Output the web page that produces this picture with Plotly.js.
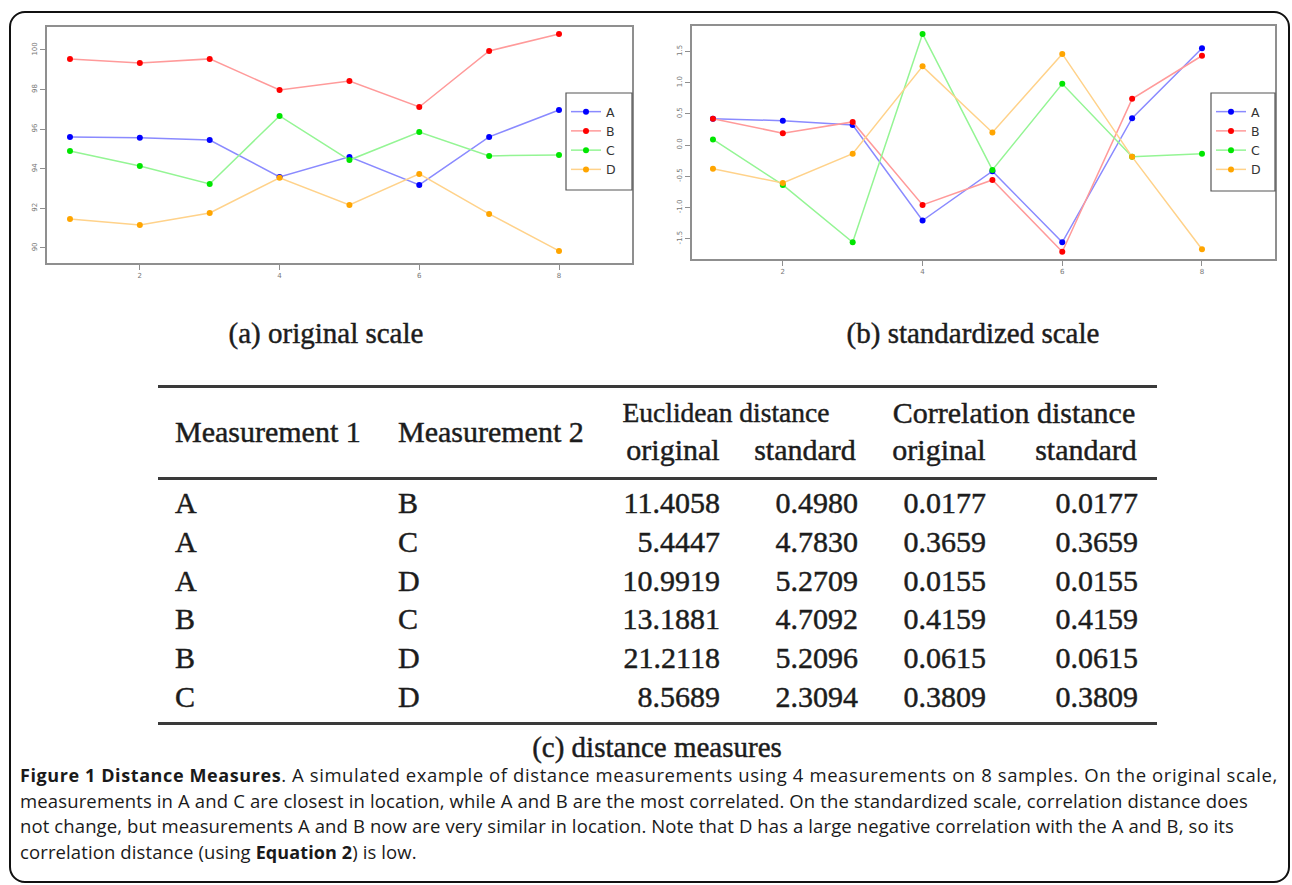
<!DOCTYPE html>
<html>
<head>
<meta charset="utf-8">
<script src="https://cdn.plot.ly/plotly-3.0.1.min.js"></script>
<style>
html,body{margin:0;padding:0;background:#fff;width:1292px;height:885px;overflow:hidden;position:relative;}
#frame{position:absolute;left:9px;top:11px;width:1281px;height:872px;border:2px solid #111;border-radius:16px;box-sizing:border-box;}
#chart{position:absolute;left:0;top:0;width:1292px;height:300px;}
.serif{font-family:"Liberation Serif","Times New Roman",serif;color:#1c1c1c;position:absolute;white-space:nowrap;line-height:34px;height:34px;-webkit-text-stroke:0.45px #1c1c1c;}
.rule{position:absolute;left:158px;width:999px;background:#3a3a3a;}
.cap{position:absolute;left:20px;font-family:"Open Sans",sans-serif;font-size:18.5px;line-height:26px;color:#1a1a1a;white-space:nowrap;}
.cap b{font-size:18px;}
</style>
</head>
<body>
<div id="frame"></div>
<div id="chart"></div>
<div id="texts"></div>
<script>
// ---------------- data ----------------
const samples = [1, 2, 3, 4, 5, 6, 7, 8];
const seriesNames = ['A', 'B', 'C', 'D'];

// (a) original scale
const originalA = [95.61, 95.56, 95.45, 93.59, 94.60, 93.18, 95.61, 96.97];
const originalB = [99.55, 99.34, 99.55, 97.98, 98.43, 97.12, 99.95, 100.81];
const originalC = [94.90, 94.14, 93.23, 96.67, 94.44, 95.86, 94.65, 94.70];
const originalD = [91.46, 91.16, 91.77, 93.54, 92.17, 93.74, 91.72, 89.85];

// (b) standardized scale
const standardA = [0.42, 0.39, 0.32, -1.21, -0.42, -1.56, 0.43, 1.55];
const standardB = [0.42, 0.19, 0.37, -0.96, -0.56, -1.71, 0.74, 1.43];
const standardC = [0.09, -0.64, -1.56, 1.78, -0.40, 0.98, -0.19, -0.14];
const standardD = [-0.38, -0.61, -0.14, 1.26, 0.20, 1.46, -0.19, -1.67];

const xTicks = [2, 4, 6, 8];
const yTicksOriginal = [90, 92, 94, 96, 98, 100];
const yTicksStandard = [-1.5, -1.0, -0.5, 0.0, 0.5, 1.0, 1.5];
const yTickTextStandard = ['-1.5', '-1.0', '-0.5', '0.0', '0.5', '1.0', '1.5'];

// (c) distance table
const measurement1 = ['A', 'A', 'A', 'B', 'B', 'C'];
const measurement2 = ['B', 'C', 'D', 'C', 'D', 'D'];
const euclidOriginal = ['11.4058', '5.4447', '10.9919', '13.1881', '21.2118', '8.5689'];
const euclidStandard = ['0.4980', '4.7830', '5.2709', '4.7092', '5.2096', '2.3094'];
const corrOriginal = ['0.0177', '0.3659', '0.0155', '0.4159', '0.0615', '0.3809'];
const corrStandard = ['0.0177', '0.3659', '0.0155', '0.4159', '0.0615', '0.3809'];

const subTitles = ['(a) original scale', '(b) standardized scale', '(c) distance measures'];
const headerTop = ['Euclidean distance', 'Correlation distance'];
const headerCols = ['Measurement 1', 'Measurement 2', 'original', 'standard', 'original', 'standard'];

// ---------------- styles ----------------
const markerColors = {A: '#0000ff', B: '#ff0000', C: '#00e600', D: '#ffa500'};
const lineColors = {A: '#8a8aff', B: '#ff9a9a', C: '#94f594', D: '#ffd28a'};
const W = 1292, H = 300;

const origSets = [originalA, originalB, originalC, originalD];
const stdSets = [standardA, standardB, standardC, standardD];

const traces = [];
seriesNames.forEach((n, i) => {
  traces.push({x: samples, y: origSets[i], name: n, type: 'scatter', mode: 'lines+markers',
    xaxis: 'x', yaxis: 'y', legend: 'legend',
    line: {color: lineColors[n], width: 1.5}, marker: {color: markerColors[n], size: 6}});
});
seriesNames.forEach((n, i) => {
  traces.push({x: samples, y: stdSets[i], name: n, type: 'scatter', mode: 'lines+markers',
    xaxis: 'x2', yaxis: 'y2', legend: 'legend2',
    line: {color: lineColors[n], width: 1.5}, marker: {color: markerColors[n], size: 6}});
});

const axBase = {showgrid: false, zeroline: false, showline: true, mirror: true,
  linecolor: '#8f8f8f', linewidth: 2, ticks: 'outside', ticklen: 5, tickwidth: 1,
  tickcolor: '#8f8f8f', tickfont: {family: 'DejaVu Sans', size: 7, color: '#777'}};

const legBase = {borderwidth: 0, bgcolor: 'rgba(0,0,0,0)',
  font: {family: 'DejaVu Sans', size: 12.5, color: '#333'}, itemwidth: 30,
  xanchor: 'left', yanchor: 'top', tracegroupgap: 0};

// legend frames (white boxes behind the legends)
const legendBoxes = [[566, 632, 93, 190], [1211, 1275, 93, 191]];
const shapes = legendBoxes.map(b => ({type: 'rect', xref: 'paper', yref: 'paper', layer: 'above',
  x0: b[0] / W, x1: b[1] / W, y0: 1 - b[3] / H, y1: 1 - b[2] / H,
  line: {color: '#555', width: 1.2}, fillcolor: '#fff'}));

const layout = {
  width: W, height: H, margin: {l: 0, r: 0, t: 0, b: 0},
  paper_bgcolor: 'rgba(0,0,0,0)', plot_bgcolor: '#fff', showlegend: true,
  xaxis: Object.assign({}, axBase, {domain: [47 / W, 632 / W], range: [0.671, 9.045], tickvals: xTicks, anchor: 'y'}),
  yaxis: Object.assign({}, axBase, {domain: [1 - 263 / H, 1 - 27 / H], range: [89.24, 101.16], tickvals: yTicksOriginal, tickangle: -90, anchor: 'x'}),
  xaxis2: Object.assign({}, axBase, {domain: [692 / W, 1275 / W], range: [0.70, 9.045], tickvals: xTicks, anchor: 'y2'}),
  yaxis2: Object.assign({}, axBase, {domain: [1 - 259 / H, 1 - 26 / H], range: [-1.827, 1.907], tickvals: yTicksStandard, ticktext: yTickTextStandard, tickangle: -90, anchor: 'x2'}),
  legend: Object.assign({}, legBase, {x: 566 / W, y: 1 - 97 / H}),
  legend2: Object.assign({}, legBase, {x: 1211 / W, y: 1 - 97 / H}),
  shapes: shapes
};

Plotly.newPlot('chart', traces, layout, {staticPlot: true, displayModeBar: false});

// ---------------- text: sub-captions, table, caption ----------------
const box = document.getElementById('texts');
function put(text, opts) {
  const d = document.createElement('div');
  d.className = 'serif';
  d.textContent = text;
  d.style.fontSize = (opts.size || 30) + 'px';
  d.style.top = (opts.cy - 17) + 'px';
  if (opts.align === 'right') { d.style.right = (W - opts.x) + 'px'; }
  else if (opts.align === 'center') { d.style.left = (opts.x - 400) + 'px'; d.style.width = '800px'; d.style.textAlign = 'center'; }
  else { d.style.left = opts.x + 'px'; }
  box.appendChild(d);
}
function rule(y, h) {
  const r = document.createElement('div');
  r.className = 'rule';
  r.style.top = y + 'px';
  r.style.height = h + 'px';
  box.appendChild(r);
}

put(subTitles[0], {x: 326, cy: 333, align: 'center', size: 29});
put(subTitles[1], {x: 973, cy: 333, align: 'center', size: 29});
put(subTitles[2], {x: 657, cy: 747, align: 'center', size: 29});

rule(385, 3);
rule(477, 2.5);
rule(722, 2.5);

put(headerTop[0], {x: 726, cy: 413, align: 'center', size: 27.5});
put(headerTop[1], {x: 1014, cy: 413, align: 'center'});
put(headerCols[0], {x: 175, cy: 432});
put(headerCols[1], {x: 398, cy: 432});
put(headerCols[2], {x: 673, cy: 450, align: 'center'});
put(headerCols[3], {x: 805, cy: 450, align: 'center'});
put(headerCols[4], {x: 939, cy: 450, align: 'center'});
put(headerCols[5], {x: 1086, cy: 450, align: 'center'});

const colRight = [720, 858, 986, 1138];
for (let i = 0; i < measurement1.length; i++) {
  const cy = 503 + i * 38.8;
  put(measurement1[i], {x: 175, cy: cy});
  put(measurement2[i], {x: 398, cy: cy});
  put(euclidOriginal[i], {x: colRight[0], cy: cy, align: 'right'});
  put(euclidStandard[i], {x: colRight[1], cy: cy, align: 'right'});
  put(corrOriginal[i], {x: colRight[2], cy: cy, align: 'right'});
  put(corrStandard[i], {x: colRight[3], cy: cy, align: 'right'});
}

const captionLines = [
  '<b>Figure 1 Distance Measures</b>. A simulated example of distance measurements using 4 measurements on 8 samples. On the original scale,',
  'measurements in A and C are closest in location, while A and B are the most correlated. On the standardized scale, correlation distance does',
  'not change, but measurements A and B now are very similar in location. Note that D has a large negative correlation with the A and B, so its',
  'correlation distance (using <b>Equation 2</b>) is low.'
];
const captionEnds = [1278, 1248, 1234, null];
const capDivs = captionLines.map((t, i) => {
  const d = document.createElement('div');
  d.className = 'cap';
  d.innerHTML = t;
  d.style.top = (775 + i * 25.7 - 13) + 'px';
  box.appendChild(d);
  return d;
});
function fitCaption() {
  let lastWs = 0;
  capDivs.forEach((d, i) => {
    d.style.wordSpacing = '0px';
    d.style.letterSpacing = '0px';
    if (captionEnds[i] === null) { d.style.letterSpacing = lastWs + 'px'; return; }
    const w = d.getBoundingClientRect().width;
    const chars = d.textContent.length;
    const ls = (captionEnds[i] - 20 - w) / chars;
    d.style.letterSpacing = ls + 'px';
    lastWs = ls;
  });
}
fitCaption();
if (document.fonts && document.fonts.ready) document.fonts.ready.then(fitCaption);
</script>
</body>
</html>
